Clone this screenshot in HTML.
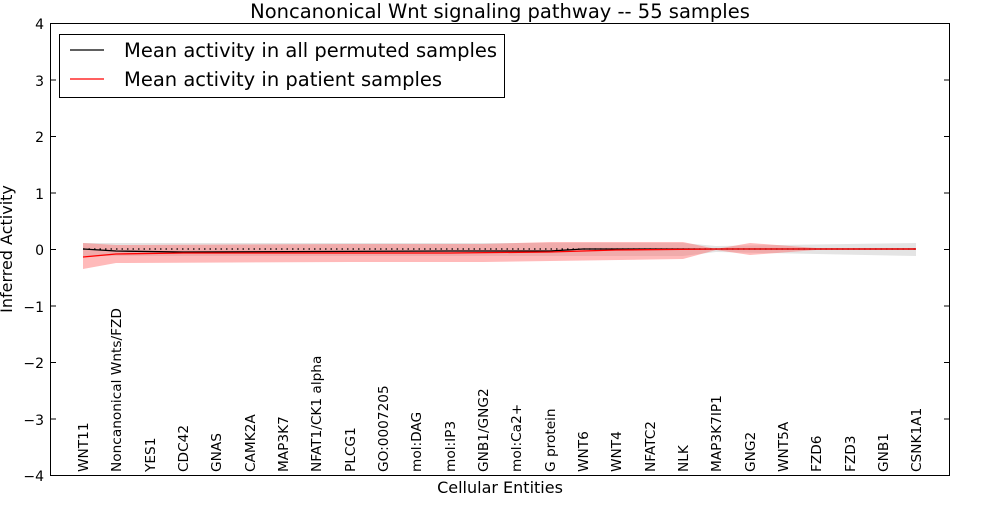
<!DOCTYPE html><html><head><style>body{margin:0;background:#fff}svg{font-family:"DejaVu Sans","Liberation Sans",sans-serif}</style></head><body>
<svg width="1000" height="500" xmlns="http://www.w3.org/2000/svg">
<rect width="1000" height="500" fill="#fff"/>
<text x="500" y="18" font-size="19.5" text-anchor="middle">Noncanonical Wnt signaling pathway -- 55 samples</text>
<polygon points="83,243 683,243 716,246 916,243 916,256 716,252 683,256 83,256" fill="#bbb" fill-opacity="0.4"/>
<polygon points="83,243 116,245 350,244 483,244 550,242 683,242 716,249 750,243 816,248 916,248 916,250 816,250 750,255 716,250 683,259 550,261 483,262 350,262 116,263 83,269" fill="#f66" fill-opacity="0.45"/>
<line x1="83" y1="249" x2="916" y2="249" stroke="#000" stroke-dasharray="1.5,4" stroke-width="1.2"/>
<polyline points="83,249 116,251 183,252 450,251 550,251 583,249 916,249" fill="none" stroke="#000" stroke-width="1.3"/>
<polyline points="83,257 116,254 183,253 450,253 550,252 616,250 716,249 916,249" fill="none" stroke="#f00" stroke-width="1.3"/>
<rect x="50.5" y="23.5" width="899" height="452" fill="none" stroke="#000"/>
<g stroke="#000">
<line x1="50" y1="23.5" x2="56" y2="23.5"/><line x1="944" y1="23.5" x2="950" y2="23.5"/>
<line x1="50" y1="80" x2="56" y2="80"/><line x1="944" y1="80" x2="950" y2="80"/>
<line x1="50" y1="136.5" x2="56" y2="136.5"/><line x1="944" y1="136.5" x2="950" y2="136.5"/>
<line x1="50" y1="193" x2="56" y2="193"/><line x1="944" y1="193" x2="950" y2="193"/>
<line x1="50" y1="249.5" x2="56" y2="249.5"/><line x1="944" y1="249.5" x2="950" y2="249.5"/>
<line x1="50" y1="306" x2="56" y2="306"/><line x1="944" y1="306" x2="950" y2="306"/>
<line x1="50" y1="362.5" x2="56" y2="362.5"/><line x1="944" y1="362.5" x2="950" y2="362.5"/>
<line x1="50" y1="419" x2="56" y2="419"/><line x1="944" y1="419" x2="950" y2="419"/>
</g>
<g font-size="14" text-anchor="end">
<text x="44" y="29">4</text><text x="44" y="86">3</text><text x="44" y="142">2</text><text x="44" y="199">1</text><text x="44" y="255">0</text><text x="44" y="312">−1</text><text x="44" y="368">−2</text><text x="44" y="425">−3</text><text x="44" y="481">−4</text>
</g>
<text transform="translate(12,249) rotate(-90)" font-size="16" text-anchor="middle">Inferred Activity</text>
<text x="500" y="493" font-size="16" text-anchor="middle">Cellular Entities</text>
<g font-size="13.7">
<text transform="translate(88,472) rotate(-90)">WNT11</text>
<text transform="translate(121,472) rotate(-90)">Noncanonical Wnts/FZD</text>
<text transform="translate(155,472) rotate(-90)">YES1</text>
<text transform="translate(188,472) rotate(-90)">CDC42</text>
<text transform="translate(221,472) rotate(-90)">GNAS</text>
<text transform="translate(255,472) rotate(-90)">CAMK2A</text>
<text transform="translate(288,472) rotate(-90)">MAP3K7</text>
<text transform="translate(321,472) rotate(-90)">NFAT1/CK1 alpha</text>
<text transform="translate(355,472) rotate(-90)">PLCG1</text>
<text transform="translate(388,472) rotate(-90)">GO:0007205</text>
<text transform="translate(421,472) rotate(-90)">mol:DAG</text>
<text transform="translate(455,472) rotate(-90)">mol:IP3</text>
<text transform="translate(488,472) rotate(-90)">GNB1/GNG2</text>
<text transform="translate(521,472) rotate(-90)">mol:Ca2+</text>
<text transform="translate(555,472) rotate(-90)">G protein</text>
<text transform="translate(588,472) rotate(-90)">WNT6</text>
<text transform="translate(621,472) rotate(-90)">WNT4</text>
<text transform="translate(655,472) rotate(-90)">NFATC2</text>
<text transform="translate(688,472) rotate(-90)">NLK</text>
<text transform="translate(721,472) rotate(-90)">MAP3K7IP1</text>
<text transform="translate(755,472) rotate(-90)">GNG2</text>
<text transform="translate(788,472) rotate(-90)">WNT5A</text>
<text transform="translate(821,472) rotate(-90)">FZD6</text>
<text transform="translate(855,472) rotate(-90)">FZD3</text>
<text transform="translate(888,472) rotate(-90)">GNB1</text>
<text transform="translate(921,472) rotate(-90)">CSNK1A1</text>
</g>
<rect x="59.5" y="34.5" width="445" height="63" fill="#fff" stroke="#000"/>
<line x1="70" y1="50" x2="104" y2="50" stroke="#000" stroke-width="1.3"/>
<line x1="70" y1="79" x2="104" y2="79" stroke="#f00" stroke-width="1.3"/>
<g font-size="19.5"><text x="124" y="57">Mean activity in all permuted samples</text><text x="124" y="86">Mean activity in patient samples</text></g>
</svg>
</body></html>
